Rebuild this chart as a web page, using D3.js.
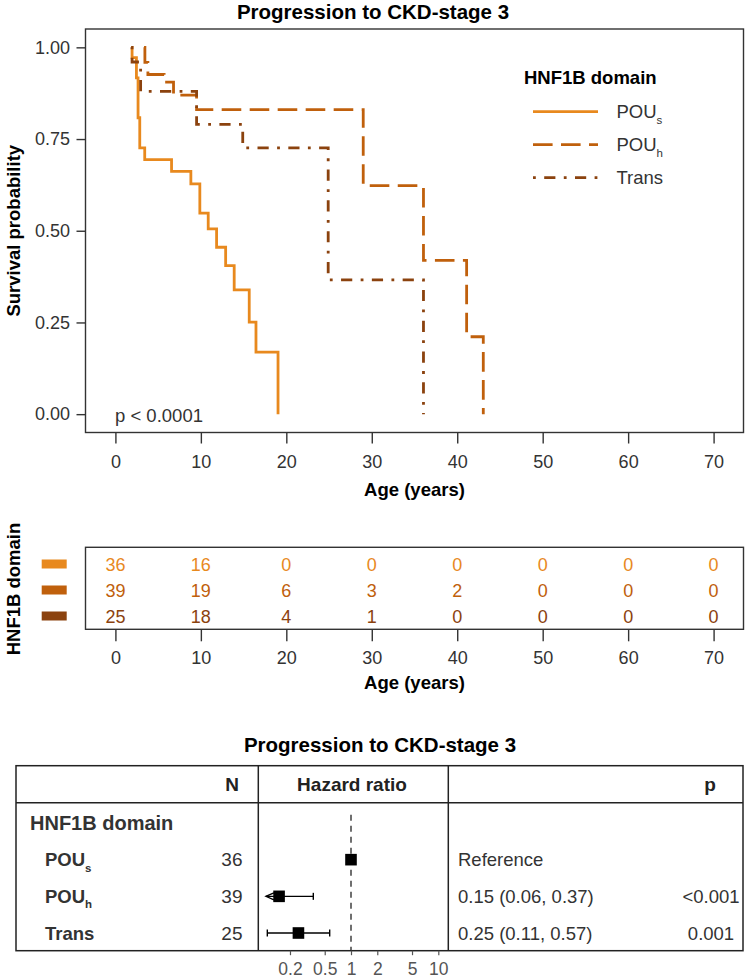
<!DOCTYPE html>
<html><head><meta charset="utf-8">
<script src="https://cdn.jsdelivr.net/npm/d3@7"></script>
<style>
body{margin:0;background:#fff}
text{font-family:"Liberation Sans",Arial,sans-serif}
</style>
</head><body>
<svg id="chart" width="747" height="978"></svg>
<script>
// ---------- data ----------
const chartTitle = "Progression to CKD-stage 3";
const groups = ["POUs", "POUh", "Trans"];
const groupBase = ["POU", "POU", "Trans"];
const groupSub = ["s", "h", ""];
const groupColors = ["#E8891E", "#C0600C", "#8B420E"];
const groupDash = ["none", "19.6,8.4", "2.8,8.4,11.2,8.4"];

const pousTime = [1.85, 1.95, 2.46, 2.65, 2.85, 3.43, 6.57, 8.83, 9.88, 10.86, 11.84, 12.9, 13.9, 15.66, 16.45, 19.03];
const pousSurv = [1, 0.972, 0.917, 0.808, 0.726, 0.694, 0.662, 0.628, 0.548, 0.505, 0.455, 0.405, 0.339, 0.251, 0.169, 0];
const pouhTime = [3.35, 3.45, 3.8, 5.7, 6.8, 9.5, 29.0, 36.05, 41.1, 43.05];
const pouhSurv = [1, 0.959, 0.926, 0.905, 0.87, 0.83, 0.623, 0.419, 0.211, 0];
const transTime = [1.85, 1.95, 2.95, 9.5, 14.9, 24.9, 36.05];
const transSurv = [1, 0.96, 0.88, 0.79, 0.726, 0.366, 0];

const xTicks = [0, 10, 20, 30, 40, 50, 60, 70];
const yTicks = [0, 0.25, 0.5, 0.75, 1];
const pValueText = "p < 0.0001";

const riskTimes = [0, 10, 20, 30, 40, 50, 60, 70];
const riskPOUs = [36, 16, 0, 0, 0, 0, 0, 0];
const riskPOUh = [39, 19, 6, 3, 2, 0, 0, 0];
const riskTrans = [25, 18, 4, 1, 0, 0, 0, 0];

const forestVar = "HNF1B domain";
const forestN = [36, 39, 25];
const forestHR = [1, 0.15, 0.25];
const forestLo = [null, 0.06, 0.11];
const forestHi = [null, 0.37, 0.57];
const forestEst = ["Reference", "0.15 (0.06, 0.37)", "0.25 (0.11, 0.57)"];
const forestP = ["", "<0.001", "0.001"];
const forestTicks = [0.2, 0.5, 1, 2, 5, 10];

// ---------- setup ----------
const svg = d3.select("#chart");
const FONT = "Liberation Sans, Arial, sans-serif";
const dark = "#333333";

const curves = [
  pousTime.map((t, i) => ({t, s: pousSurv[i]})),
  pouhTime.map((t, i) => ({t, s: pouhSurv[i]})),
  transTime.map((t, i) => ({t, s: transSurv[i]}))
];
const risks = [riskPOUs, riskPOUh, riskTrans];

function addLabel(sel, i, baseSize) {
  sel.append("tspan").text(groupBase[i]);
  if (groupSub[i]) {
    sel.append("tspan").attr("dy", baseSize * 0.3).attr("font-size", baseSize * 0.62).text(groupSub[i]);
  }
}

// ---------- KM plot ----------
const P = {left: 85.5, right: 743.5, top: 29, bottom: 432.5};
const x = d3.scaleLinear().domain([-3.5, 73.5]).range([P.left, P.right]);
const y = d3.scaleLinear().domain([-0.05, 1.05]).range([P.bottom, P.top]);

svg.append("text").attr("x", 373).attr("y", 19).attr("text-anchor", "middle")
  .attr("font-size", 20.5).attr("font-weight", "bold").attr("fill", "#000").text(chartTitle);

const line = d3.line().x(d => x(d.t)).y(d => y(d.s)).curve(d3.curveStepAfter);
curves.forEach((c, i) => {
  svg.append("path").datum(c).attr("d", line).attr("fill", "none")
    .attr("stroke", groupColors[i]).attr("stroke-width", 2.8)
    .attr("stroke-dasharray", groupDash[i]);
});

svg.append("rect").attr("x", P.left).attr("y", P.top).attr("width", P.right - P.left)
  .attr("height", P.bottom - P.top).attr("fill", "none").attr("stroke", dark).attr("stroke-width", 1.4);

const xAxis = svg.append("g").attr("transform", `translate(0,${P.bottom})`)
  .call(d3.axisBottom(x).tickValues(xTicks).tickSize(11).tickPadding(11.5));
const yAxis = svg.append("g").attr("transform", `translate(${P.left},0)`)
  .call(d3.axisLeft(y).tickValues(yTicks).tickFormat(d3.format(".2f")).tickSize(9).tickPadding(6.5));
[xAxis, yAxis].forEach(a => {
  a.select(".domain").remove();
  a.selectAll("line").attr("stroke", dark).attr("stroke-width", 1.4);
  a.selectAll("text").attr("font-size", 18).attr("fill", dark).attr("font-family", FONT);
});

svg.append("text").attr("transform", `translate(20,${(P.top + P.bottom) / 2}) rotate(-90)`)
  .attr("text-anchor", "middle").attr("font-size", 18.5).attr("font-weight", "bold").attr("fill", "#000")
  .text("Survival probability");
svg.append("text").attr("x", (P.left + P.right) / 2).attr("y", 496).attr("text-anchor", "middle")
  .attr("font-size", 18.5).attr("font-weight", "bold").attr("fill", "#000").text("Age (years)");

svg.append("text").attr("x", 115).attr("y", 421.5).attr("font-size", 18.5).attr("fill", dark).text(pValueText);

// legend
const legY = d3.scalePoint().domain(groups).range([111.7, 177.7]);
svg.append("text").attr("x", 524).attr("y", 83.5).attr("font-size", 18.5).attr("font-weight", "bold")
  .attr("fill", "#000").text("HNF1B domain");
groups.forEach((g, i) => {
  svg.append("line").attr("x1", 533).attr("x2", 598).attr("y1", legY(g)).attr("y2", legY(g))
    .attr("stroke", groupColors[i]).attr("stroke-width", 2.8).attr("stroke-dasharray", groupDash[i]);
  const t = svg.append("text").attr("x", 616.5).attr("y", legY(g) + 6.5).attr("font-size", 18.5).attr("fill", dark);
  addLabel(t, i, 18.5);
});

// ---------- risk table ----------
const R = {top: 547.3, bottom: 629.3};
const ry = d3.scalePoint().domain(groups).range([564, 616]);
svg.append("rect").attr("x", P.left).attr("y", R.top).attr("width", P.right - P.left)
  .attr("height", R.bottom - R.top).attr("fill", "none").attr("stroke", dark).attr("stroke-width", 1.4);
groups.forEach((g, i) => {
  svg.append("g").selectAll("text").data(riskTimes).join("text")
    .attr("x", d => x(d)).attr("y", ry(g) + 6.5).attr("text-anchor", "middle")
    .attr("font-size", 18).attr("fill", groupColors[i]).text((d, j) => risks[i][j]);
  svg.append("rect").attr("x", 41.7).attr("y", ry(g) - 4.5).attr("width", 25).attr("height", 9)
    .attr("fill", groupColors[i]);
});
const rAxis = svg.append("g").attr("transform", `translate(0,${R.bottom})`)
  .call(d3.axisBottom(x).tickValues(riskTimes).tickSize(12).tickPadding(10.3));
rAxis.select(".domain").remove();
rAxis.selectAll("line").attr("stroke", dark).attr("stroke-width", 1.4);
rAxis.selectAll("text").attr("font-size", 18).attr("fill", dark).attr("font-family", FONT);
svg.append("text").attr("transform", `translate(20,589) rotate(-90)`)
  .attr("text-anchor", "middle").attr("font-size", 18.5).attr("font-weight", "bold").attr("fill", "#000")
  .text("HNF1B domain");
svg.append("text").attr("x", (P.left + P.right) / 2).attr("y", 688.5).attr("text-anchor", "middle")
  .attr("font-size", 18.5).attr("font-weight", "bold").attr("fill", "#000").text("Age (years)");

// ---------- forest plot ----------
const F = {left: 16, right: 743, top: 765.7, head: 802.7, bottom: 950.7, d1: 258.3, d2: 448.3};
const fx = d3.scaleLog().domain([1, 10]).range([351, 438.3]);
const fLow = 0.106;
const fy = d3.scalePoint().domain(["var", ...groups]).range([823, 933]);

svg.append("text").attr("x", 380).attr("y", 752).attr("text-anchor", "middle")
  .attr("font-size", 20.5).attr("font-weight", "bold").attr("fill", "#000").text(chartTitle);

// dashed reference line
svg.append("line").attr("x1", fx(1)).attr("x2", fx(1)).attr("y1", F.head + 12).attr("y2", F.bottom)
  .attr("stroke", "#333").attr("stroke-width", 1.4).attr("stroke-dasharray", "6,5");

// box
svg.append("rect").attr("x", F.left).attr("y", F.top).attr("width", F.right - F.left)
  .attr("height", F.bottom - F.top).attr("fill", "none").attr("stroke", "#222").attr("stroke-width", 1.5);
svg.append("line").attr("x1", F.left).attr("x2", F.right).attr("y1", F.head).attr("y2", F.head)
  .attr("stroke", "#222").attr("stroke-width", 1.5);
[F.d1, F.d2].forEach(d => svg.append("line").attr("x1", d).attr("x2", d).attr("y1", F.top).attr("y2", F.bottom)
  .attr("stroke", "#222").attr("stroke-width", 1.5));

// header
const hy = 791;
svg.append("text").attr("x", 239).attr("y", hy).attr("text-anchor", "end").attr("font-size", 19)
  .attr("font-weight", "bold").attr("fill", "#222").text("N");
svg.append("text").attr("x", 352).attr("y", hy).attr("text-anchor", "middle").attr("font-size", 19)
  .attr("font-weight", "bold").attr("fill", "#222").text("Hazard ratio");
svg.append("text").attr("x", 710).attr("y", hy).attr("text-anchor", "middle").attr("font-size", 19)
  .attr("font-weight", "bold").attr("fill", "#222").text("p");

svg.append("text").attr("x", 30).attr("y", fy("var") + 7).attr("font-size", 20)
  .attr("font-weight", "bold").attr("fill", "#333").text(forestVar);

groups.forEach((g, i) => {
  const yy = fy(g);
  const t = svg.append("text").attr("x", 45).attr("y", yy + 6.5).attr("font-size", 18.5)
    .attr("font-weight", "bold").attr("fill", "#333");
  addLabel(t, i, 18.5);
  svg.append("text").attr("x", 242.5).attr("y", yy + 6.5).attr("text-anchor", "end").attr("font-size", 19)
    .attr("fill", "#333").text(forestN[i]);
  svg.append("text").attr("x", 458).attr("y", yy + 6.5).attr("font-size", 18.5)
    .attr("fill", "#333").text(forestEst[i]);
  if (forestP[i]) svg.append("text").attr("x", 711).attr("y", yy + 6.5).attr("text-anchor", "middle")
    .attr("font-size", 18.5).attr("fill", "#333").text(forestP[i]);
  if (forestLo[i] !== null) {
    const lo = Math.max(forestLo[i], fLow);
    const x1 = fx(lo), x2 = fx(forestHi[i]);
    svg.append("line").attr("x1", x1).attr("x2", x2).attr("y1", yy).attr("y2", yy)
      .attr("stroke", "#000").attr("stroke-width", 1.4);
    svg.append("line").attr("x1", x2).attr("x2", x2).attr("y1", yy - 3.5).attr("y2", yy + 3.5)
      .attr("stroke", "#000").attr("stroke-width", 1.4);
    if (forestLo[i] < fLow) {
      svg.append("path").attr("d", `M${x1 + 8},${yy - 3.5} L${x1},${yy} L${x1 + 8},${yy + 3.5}`)
        .attr("fill", "none").attr("stroke", "#000").attr("stroke-width", 1.3);
    } else {
      svg.append("line").attr("x1", x1).attr("x2", x1).attr("y1", yy - 3.5).attr("y2", yy + 3.5)
        .attr("stroke", "#000").attr("stroke-width", 1.4);
    }
  }
  svg.append("rect").attr("x", fx(forestHR[i]) - 5.8).attr("y", yy - 5.8).attr("width", 11.6).attr("height", 11.6)
    .attr("fill", "#000");
});

const fAxis = svg.append("g").attr("transform", `translate(0,${F.bottom})`)
  .call(d3.axisBottom(fx).tickValues(forestTicks).tickFormat(d => String(d)).tickSize(4.5).tickPadding(7.5));
fAxis.select(".domain").remove();
fAxis.selectAll("line").attr("stroke", "#555").attr("stroke-width", 1.2);
fAxis.selectAll("text").attr("font-size", 17.5).attr("fill", "#555").attr("font-family", FONT);
</script>
</body></html>
